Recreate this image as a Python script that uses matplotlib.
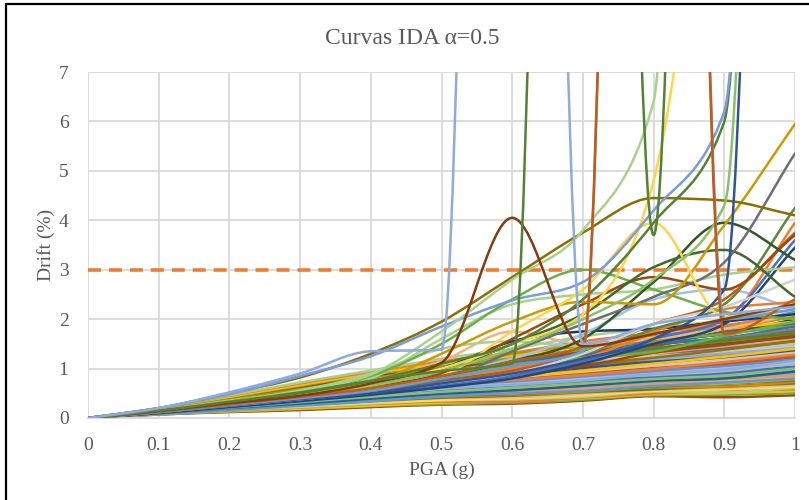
import numpy as np
import matplotlib
matplotlib.use("Agg")
import matplotlib.pyplot as plt
from matplotlib.path import Path
from matplotlib.patches import PathPatch, Rectangle
from matplotlib.ticker import FuncFormatter

plt.rcParams['font.family'] = ['Liberation Serif', 'DejaVu Serif']

# PGA levels (g) where every record was scaled
pga = [0, 0.1, 0.2, 0.3, 0.4, 0.5, 0.6, 0.7, 0.8, 0.9, 1.0]
drift_limit = 3.0

# bulk of the IDA curves, drift (%)
low_band = [
    [0, .07, .12, .16, .22, .27, .29, .35, .44, .42, .46],
    [0, .07, .13, .18, .24, .28, .31, .37, .46, .47, .50],
    [0, .08, .14, .19, .25, .31, .34, .40, .48, .50, .55],
    [0, .08, .15, .21, .28, .33, .33, .41, .50, .54, .58],
    [0, .09, .16, .22, .29, .36, .38, .43, .53, .52, .61],
    [0, .09, .17, .24, .31, .36, .40, .46, .55, .58, .64],
    [0, .09, .17, .25, .33, .40, .42, .49, .57, .61, .67],
    [0, .10, .18, .26, .34, .41, .45, .52, .58, .64, .70],
    [0, .10, .19, .27, .35, .43, .47, .53, .62, .63, .73],
    [0, .10, .19, .28, .37, .45, .48, .56, .64, .69, .76],
    [0, .11, .20, .29, .38, .46, .52, .58, .66, .70, .79],
    [0, .11, .21, .30, .40, .48, .50, .60, .68, .75, .82],
    [0, .09, .18, .28, .38, .47, .55, .60, .70, .78, .86],
    [0, .08, .16, .25, .34, .44, .50, .55, .65, .72, .80],
]
mid_band = [
    [0, .11, .22, .32, .42, .50, .55, .62, .72, .76, .86],
    [0, .12, .23, .33, .43, .52, .58, .66, .74, .80, .89],
    [0, .12, .24, .35, .45, .54, .57, .68, .78, .83, .92],
    [0, .12, .24, .36, .47, .56, .62, .70, .80, .87, .95],
    [0, .13, .25, .37, .49, .58, .65, .72, .83, .88, .98],
    [0, .13, .26, .38, .50, .60, .64, .75, .86, .93, 1.01],
    [0, .13, .27, .40, .52, .62, .69, .78, .88, .96, 1.05],
    [0, .14, .28, .41, .53, .64, .72, .80, .92, .98, 1.08],
    [0, .14, .28, .42, .55, .66, .70, .83, .94, 1.03, 1.11],
    [0, .14, .29, .43, .57, .68, .76, .86, .97, 1.05, 1.15],
    [0, .15, .30, .45, .59, .71, .79, .88, 1.00, 1.10, 1.18],
    [0, .15, .31, .46, .61, .73, .78, .91, 1.04, 1.12, 1.22],
    [0, .15, .32, .48, .63, .75, .84, .95, 1.06, 1.17, 1.26],
    [0, .16, .33, .49, .65, .78, .87, .97, 1.10, 1.20, 1.30],
    [0, .16, .34, .51, .67, .80, .86, 1.01, 1.14, 1.22, 1.34],
    [0, .10, .20, .30, .41, .52, .60, .64, .73, .81, .90],
    [0, .12, .22, .31, .44, .55, .63, .69, .77, .85, .97],
    [0, .11, .23, .34, .46, .57, .66, .74, .84, .91, 1.03],
    [0, .13, .25, .37, .48, .59, .68, .79, .87, .95, 1.10],
    [0, .12, .26, .39, .51, .63, .72, .81, .90, 1.00, 1.13],
    [0, .14, .27, .40, .54, .66, .74, .84, .95, 1.06, 1.19],
    [0, .13, .28, .42, .56, .69, .80, .90, 1.01, 1.10, 1.24],
    [0, .15, .30, .44, .58, .70, .82, .94, 1.06, 1.18, 1.32],
    [0, .14, .31, .46, .60, .72, .83, .96, 1.10, 1.24, 1.40],
    [0, .10, .20, .29, .39, .49, .56, .65, .75, .80, .94],
    [0, .11, .21, .32, .43, .53, .61, .70, .79, .86, 1.00],
    [0, .12, .24, .36, .47, .60, .67, .76, .89, .98, 1.16],
    [0, .13, .27, .41, .54, .67, .77, .87, .99, 1.13, 1.28],
]
high_band = [
    [0, .16, .34, .52, .69, .83, .93, 1.04, 1.16, 1.28, 1.38],
    [0, .17, .35, .53, .71, .85, .96, 1.08, 1.20, 1.30, 1.42],
    [0, .17, .36, .55, .73, .95, .95, 1.12, 1.25, 1.36, 1.47],
    [0, .17, .37, .56, .75, .90, 1.02, 1.15, 1.28, 1.40, 1.52],
    [0, .18, .38, .58, .78, .93, 1.05, 1.19, 1.32, 1.42, 1.58],
    [0, .18, .39, .60, .80, .96, 1.08, 1.24, 1.37, 1.50, 1.64],
    [0, .18, .40, .61, .82, .98, 1.12, 1.28, 1.42, 1.55, 1.70],
    [0, .19, .41, .63, .85, 1.02, 1.16, 1.33, 1.48, 1.62, 1.78],
    [0, .19, .42, .65, .88, 1.05, 1.20, 1.38, 1.55, 1.70, 1.86],
    [0, .19, .43, .67, .90, 1.10, 1.26, 1.45, 1.63, 1.80, 1.95],
    [0, .20, .45, .70, .93, 1.15, 1.32, 1.55, 1.72, 1.88, 2.05],
    [0, .20, .46, .72, .96, 1.20, 1.40, 1.65, 1.82, 1.98, 2.20],
]
upper_band = [
    [0, .14, .30, .47, .66, .85, 1.05, 1.20, 1.30, 1.45, 1.60],
    [0, .15, .32, .50, .70, .92, 1.00, 1.10, 1.35, 1.55, 1.75],
    [0, .13, .28, .44, .62, .80, .98, 1.25, 1.40, 1.50, 1.68],
    [0, .16, .34, .52, .72, .95, 1.15, 1.30, 1.45, 1.75, 1.90],
    [0, .14, .31, .49, .68, .88, 1.10, 1.35, 1.55, 1.70, 2.00],
    [0, .15, .33, .51, .71, .93, 1.20, 1.40, 1.65, 1.85, 2.15],
    [0, .17, .36, .56, .76, .98, 1.25, 1.50, 1.60, 1.95, 2.30],
    [0, .13, .27, .42, .58, .75, .90, 1.05, 1.25, 1.40, 1.55],
    [0, .12, .26, .40, .56, .72, .88, 1.00, 1.15, 1.35, 1.48],
    [0, .16, .35, .55, .74, .90, 1.05, 1.15, 1.25, 1.35, 1.45],
    [0, .14, .29, .45, .63, .82, .95, 1.12, 1.20, 1.30, 1.42],
    [0, .15, .31, .48, .66, .86, 1.12, 1.28, 1.50, 1.62, 1.85],
    [0, .13, .29, .46, .64, .84, 1.02, 1.18, 1.38, 1.60, 1.80],
    [0, .12, .25, .39, .54, .70, .84, .96, 1.10, 1.22, 1.36],
    [0, .11, .24, .38, .52, .67, .80, .90, 1.02, 1.15, 1.30],
    [0, .14, .30, .46, .64, .80, .96, 1.08, 1.22, 1.38, 1.56],
    [0, .16, .33, .50, .68, .86, 1.00, 1.22, 1.40, 1.58, 1.72],
    [0, .13, .27, .43, .60, .78, .92, 1.05, 1.32, 1.48, 1.66],
    [0, .17, .37, .58, .80, 1.00, 1.30, 1.45, 1.55, 1.80, 2.05],
    [0, .15, .32, .49, .67, .84, 1.08, 1.22, 1.34, 1.66, 1.95],
]

# curves that stand out (collapse = values far above the axis)
salmon_hump = [0, .15, .32, .50, .75, 1.15, 1.75, 1.50, 1.60, 1.80, 2.10]
lg_hump = [0, .16, .35, .55, .90, 1.40, 1.55, 1.45, 1.70, 2.00, 2.30]
navy_flat = [0, .14, .30, .48, .68, 1.00, 1.55, 1.75, 1.80, 1.95, 2.10]
lb_late = [0, .13, .28, .45, .65, .90, 1.20, 1.70, 2.40, 2.60, 2.20]
orange_late = [0, .13, .28, .44, .60, .80, 1.00, 1.30, 1.75, 2.20, 2.35]
green_r = [0, .12, .26, .40, .56, .75, .95, 1.30, 1.80, 2.30, 4.25]
orange_r = [0, .11, .24, .37, .52, .70, .90, 1.20, 1.70, 2.00, 3.95]
ob_r = [0, .12, .25, .39, .54, .72, .95, 1.30, 1.90, 2.40, 3.75]
blue_r = [0, .11, .23, .36, .50, .66, .85, 1.15, 1.60, 2.00, 3.60]
dblue_r = [0, .10, .22, .34, .47, .62, .80, 1.10, 1.50, 1.90, 3.45]
lgray_r = [0, .12, .25, .38, .52, .70, .90, 1.30, 1.90, 2.25, 2.80]
lg_end = [0, .15, .33, .52, .80, 1.60, 2.30, 2.50, 2.60, 2.90, 3.05]
green_c = [0, .15, .33, .55, .85, 1.50, 2.40, 3.00, 2.60, 2.15, 2.00]
brown_b = [0, .13, .28, .45, .62, .90, 1.60, 2.30, 2.85, 2.60, 3.70]
dg_arc_a = [0, .13, .28, .45, .62, .85, 1.15, 1.60, 2.75, 3.95, 3.20]
dg_arc_b = [0, .14, .30, .48, .68, .95, 1.50, 2.10, 3.05, 3.40, 2.45]
gray_rise = [0, .12, .26, .40, .55, .75, 1.35, 1.90, 2.45, 3.15, 5.35]
gold_rise = [0, .14, .30, .48, .70, 1.30, 1.95, 2.35, 2.30, 3.90, 5.95]
olive = [0, .20, .50, .82, 1.30, 1.95, 2.85, 3.75, 4.45, 4.40, 4.10]
yellow_arc = [0, .12, .27, .42, .60, .85, 1.75, 2.60, 3.95, 2.05, 2.30]
yellow_rise = [0, .13, .30, .48, .70, 1.00, 1.50, 2.10, 4.80, 14, 20]
dg_rise = [0, .14, .30, .50, .75, 1.10, 1.50, 2.40, 3.95, 6.00, 50]
blue_rise = [0, .20, .48, .85, 1.25, 1.85, 2.38, 2.75, 4.20, 6.20, 50]
lg_late = [0, .13, .28, .45, .65, .95, 1.40, 2.00, 2.80, 4.30, 50]
lg_rise = [0, .15, .33, .56, .88, 1.75, 2.80, 3.80, 6.40, 50, 50]
darkblue_end = [0, .12, .25, .38, .50, .70, .90, 1.20, 1.60, 2.60, 50]
blue_spike = [0, .12, .26, .40, .55, .80, 1.05, 1.35, 50, 2.00, 2.20]
ob_spike = [0, .13, .28, .43, .60, .85, 1.15, 1.45, 50, 1.70, 2.40]
brown_bump = [0, .14, .30, .45, .70, 1.12, 4.05, 1.45, 1.70, 2.00, 2.30]
dg_spike = [0, .15, .33, .52, .75, .95, 1.10, 50, 3.70, 50, 50]
lb_spike = [0, .20, .52, .90, 1.35, 1.38, 50, 1.50, 1.90, 2.10, 2.25]

palette = ['#4472C4', '#ED7D31', '#A5A5A5', '#FFC000', '#5B9BD5', '#70AD47',
           '#264478', '#9E480E', '#636363', '#997300', '#255E91', '#43682B',
           '#698ED0', '#F1975A', '#B7B7B7', '#FFCD33', '#7CAFDD', '#8CC168',
           '#2F5597', '#C55A11', '#7F7F7F', '#BF9000', '#2E75B6', '#548235',
           '#8FAADC', '#F4B183', '#C9C9C9', '#FFD966', '#9DC3E6', '#A9D18E']

outliers = [
    (salmon_hump, '#F4B183'), (lg_hump, '#A9D18E'), (navy_flat, '#1F3864'),
    (lb_late, '#9DC3E6'), (orange_late, '#ED7D31'), (green_r, '#5A8A39'),
    (orange_r, '#ED7D31'), (ob_r, '#C55A11'), (blue_r, '#4472C4'),
    (dblue_r, '#264478'), (lgray_r, '#D0D0D0'), (lg_end, '#A9D18E'),
    (green_c, '#70AD47'), (brown_b, '#9E480E'), (dg_arc_a, '#375623'),
    (dg_arc_b, '#43682B'), (gray_rise, '#6E6E6E'), (gold_rise, '#CC9A00'),
    (olive, '#8C6D00'), (yellow_arc, '#FFD34D'), (yellow_rise, '#FFD34D'),
    (dg_rise, '#548235'), (blue_rise, '#7A9CDB'), (lg_late, '#8CC168'),
    (lg_rise, '#A9D18E'), (darkblue_end, '#2F5597'), (blue_spike, '#6D9BD2'),
    (ob_spike, '#C55A11'), (brown_bump, '#843C0C'), (dg_spike, '#548235'),
    (lb_spike, '#8FAADC'),
]


def smooth_path(x, y):
    # Excel-like smoothed line: cubic pieces through the points, slopes limited
    x = np.asarray(x, float)
    y = np.asarray(y, float)
    d = np.diff(y) / np.diff(x)
    m = np.zeros(len(x))
    m[0], m[-1] = d[0], d[-1]
    for i in range(1, len(x) - 1):
        if d[i - 1] * d[i] > 0:
            s = (y[i + 1] - y[i - 1]) / (x[i + 1] - x[i - 1])
            lim = 2 * min(abs(d[i - 1]), abs(d[i]))
            m[i] = np.sign(s) * min(abs(s), lim)
    verts = [(x[0], y[0])]
    codes = [Path.MOVETO]
    for i in range(len(x) - 1):
        h = x[i + 1] - x[i]
        verts += [(x[i] + h / 3, y[i] + m[i] * h / 3),
                  (x[i + 1] - h / 3, y[i + 1] - m[i + 1] * h / 3),
                  (x[i + 1], y[i + 1])]
        codes += [Path.CURVE4] * 3
    return Path(verts, codes)


fig = plt.figure(figsize=(8.09, 5.0), dpi=100)
ax = fig.add_axes([88 / 809, 82 / 500, 707 / 809, 346 / 500])

bands = []
for k in range(28):
    for band in (mid_band, low_band, upper_band, high_band):
        if k < len(band):
            bands.append(band[k])

for i, vals in enumerate(bands):
    ax.add_patch(PathPatch(smooth_path(pga, vals), fill=False, lw=1.8,
                           edgecolor=palette[(i * 7) % len(palette)],
                           capstyle='round', joinstyle='round', zorder=2))

ax.plot([pga[0], pga[-1]], [drift_limit, drift_limit], color='#ED7D31',
        lw=2.6, dashes=(3.6, 2.2), zorder=3)

for vals, c in outliers:
    ax.add_patch(PathPatch(smooth_path(pga, vals), fill=False, lw=1.8,
                           edgecolor=c, capstyle='round', joinstyle='round',
                           zorder=4))

ax.set_xlim(0, 1)
ax.set_ylim(0, 7)
ax.set_xticks(np.arange(0, 1.01, 0.1))
ax.set_yticks(range(0, 8))
ax.xaxis.set_major_formatter(FuncFormatter(lambda v, p: '%g' % round(v, 1)))
ax.grid(True, color='#D9D9D9', lw=1.3)
ax.set_axisbelow(True)
for s in ['top', 'right', 'left']:
    ax.spines[s].set_visible(False)
ax.spines['bottom'].set_color('#D9D9D9')
ax.spines['bottom'].set_linewidth(1.3)
ax.tick_params(length=0, labelsize=14, labelcolor='#595959')
ax.tick_params(axis='x', pad=14)
ax.tick_params(axis='y', pad=14)
ax.set_xlabel('PGA (g)', fontsize=14, color='#595959', labelpad=5)
ax.set_ylabel('Drift (%)', fontsize=14, color='#595959', labelpad=3)
fig.text(0.51, 0.924, 'Curvas IDA α=0.5', ha='center', va='center',
         fontsize=17, color='#595959')

fig.patches.append(Rectangle((6 / 809, -0.05), 1.0, 1.05 - 4 / 500,
                             transform=fig.transFigure, fill=False,
                             edgecolor='black', lw=1.6))

fig.savefig('out.png', dpi=100)
